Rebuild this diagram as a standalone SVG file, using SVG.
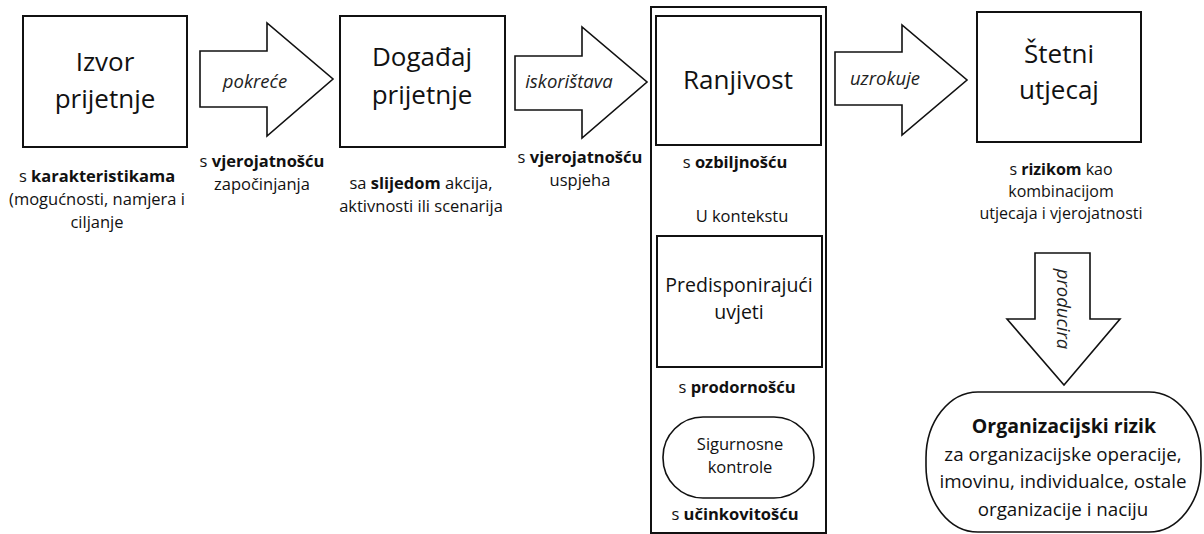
<svg xmlns="http://www.w3.org/2000/svg" width="1204" height="534" viewBox="0 0 1204 534">
<style>
text{font-family:"Open Sans","Noto Sans","DejaVu Sans",sans-serif;fill:#111;text-anchor:middle}
.box{fill:#fff;stroke:#111;stroke-width:2}
.arr{fill:#fff;stroke:#111;stroke-width:1.6;stroke-linejoin:miter}
.big{font-size:26px}
.mid{font-size:19.5px}
.sm{font-size:16.5px}
.sm2{font-size:16px}
.lbl{font-size:18.5px;font-style:italic;fill:#222}
.org{font-size:18.8px}
.b{font-weight:bold}
</style>
<rect width="1204" height="534" fill="#fff"/>
<g id="connectors">
<path class="arr" d="M200,51 H267 V23 L333,79 L267,136 V107 H200 Z"/>
<path class="arr" d="M515,56 H582 V27 L647,82 L582,138 V110 H515 Z"/>
<path class="arr" d="M835,52 H902 V25 L967,80 L902,135 V105 H835 Z"/>
<path class="arr" d="M1035,253 H1090 V319 H1120 L1064,385 L1007,319 H1035 Z"/>
<text class="lbl" x="255" y="88">pokreće</text>
<text class="lbl" x="569" y="88">iskorištava</text>
<text class="lbl" x="885" y="85">uzrokuje</text>
<text class="lbl" transform="translate(1063,309) rotate(90)" dy="6">producira</text>
</g>
<g id="izvor">
<rect class="box" x="23" y="16" width="164" height="131"/>
<text class="big" x="105" y="71">Izvor</text>
<text class="big" x="105" y="108">prijetnje</text>
<text class="sm" x="97" y="182">s <tspan class="b">karakteristikama</tspan></text>
<text class="sm" x="97" y="205">(mogućnosti, namjera i</text>
<text class="sm" x="97" y="228">ciljanje</text>
</g>
<g id="pokrece-vjerojatnost">
<text class="sm" x="262" y="167">s <tspan class="b">vjerojatnošću</tspan></text>
<text class="sm" x="262" y="190">započinjanja</text>
</g>
<g id="dogadaj">
<rect class="box" x="340" y="16" width="165" height="131"/>
<text class="big" x="422" y="66">Događaj</text>
<text class="big" x="422" y="104">prijetnje</text>
<text class="sm" x="421" y="189">sa <tspan class="b">slijedom</tspan> akcija,</text>
<text class="sm" x="421" y="212">aktivnosti ili scenarija</text>
</g>
<g id="iskoristava-vjerojatnost">
<text class="sm" x="580" y="163">s <tspan class="b">vjerojatnošću</tspan></text>
<text class="sm" x="580" y="186">uspjeha</text>
</g>
<g id="ranjivost-okvir">
<rect class="box" x="651" y="7" width="175" height="526"/>
</g>
<g id="ranjivost">
<rect class="box" x="656" y="16" width="165" height="129"/>
<text class="big" x="738" y="89">Ranjivost</text>
<text class="sm" x="735" y="168">s <tspan class="b">ozbiljnošću</tspan></text>
<text class="sm" x="742" y="222">U kontekstu</text>
</g>
<g id="predisponirajuci">
<rect class="box" x="657" y="236" width="165" height="131"/>
<text class="mid" x="739" y="292">Predisponirajući</text>
<text class="mid" x="739" y="319">uvjeti</text>
<text class="sm" x="737" y="393">s <tspan class="b">prodornošću</tspan></text>
</g>
<g id="sigurnosne">
<rect class="box" x="663" y="417" width="151" height="81" rx="40" ry="40" style="stroke-width:1.6"/>
<text class="sm" x="740" y="450">Sigurnosne</text>
<text class="sm" x="740" y="473">kontrole</text>
<text class="sm" x="735" y="520">s <tspan class="b">učinkovitošću</tspan></text>
</g>
<g id="stetni">
<rect class="box" x="977" y="12" width="164" height="130"/>
<text class="big" x="1059" y="63">Štetni</text>
<text class="big" x="1059" y="99">utjecaj</text>
<text class="sm2" x="1061" y="175">s <tspan class="b">rizikom</tspan> kao</text>
<text class="sm2" x="1061" y="197">kombinacijom</text>
<text class="sm2" x="1061" y="219">utjecaja i vjerojatnosti</text>
</g>
<g id="organizacijski">
<rect class="box" x="926" y="392" width="275" height="140" rx="52" ry="66" style="stroke-width:1.6"/>
<text class="org b" x="1064" y="433" style="font-size:19.5px">Organizacijski rizik</text>
<text class="org" x="1063" y="461">za organizacijske operacije,</text>
<text class="org" x="1063" y="488">imovinu, individualce, ostale</text>
<text class="org" x="1063" y="516">organizacije i naciju</text>
</g>
</svg>
